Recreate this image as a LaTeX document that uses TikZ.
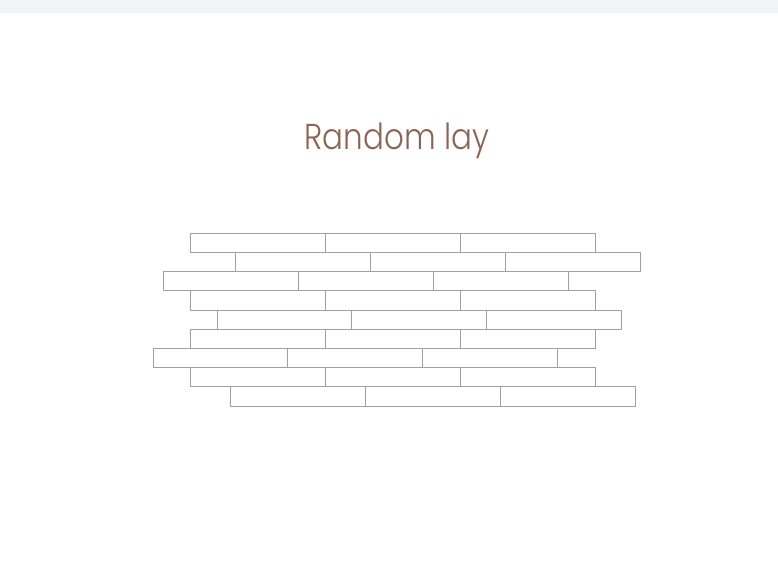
\documentclass[tikz,border=0pt]{standalone}
\usepackage{fontspec}
\newfontfamily\titlefont{Poppins Light}[FakeStretch=0.86]
\definecolor{bargray}{RGB}{242,243,245}
\definecolor{titlebrown}{RGB}{140,100,84}
\definecolor{brickgray}{RGB}{160,160,160}
\begin{document}
\begin{tikzpicture}[x=1pt, y=-1pt]
    \tikzset{brick/.style={draw=brickgray, line width=0.9pt}}
    \useasboundingbox (0,0) rectangle (778,574);

    % 顶部灰条
    \fill[bargray] (0,0) rectangle (778,12.5);

    % 标题
    \node[anchor=base, text=titlebrown, font=\titlefont\fontsize{36}{40}\selectfont, inner sep=0pt] (title) at (397,149.3) {Random lay};

    % 砖块: 每行三块, 行号/左端
    \foreach \row/\lx in {0/190.7, 1/235.7, 2/163.7, 3/190.7, 4/217, 5/190.7, 6/153, 7/190.7, 8/230.3} {
        \foreach \k in {0,1,2} {
            \draw[brick] ({\lx+\k*134.9}, {233.3+\row*19.19}) rectangle ++(134.9,19.19);
        }
    }
\end{tikzpicture}
\end{document}
